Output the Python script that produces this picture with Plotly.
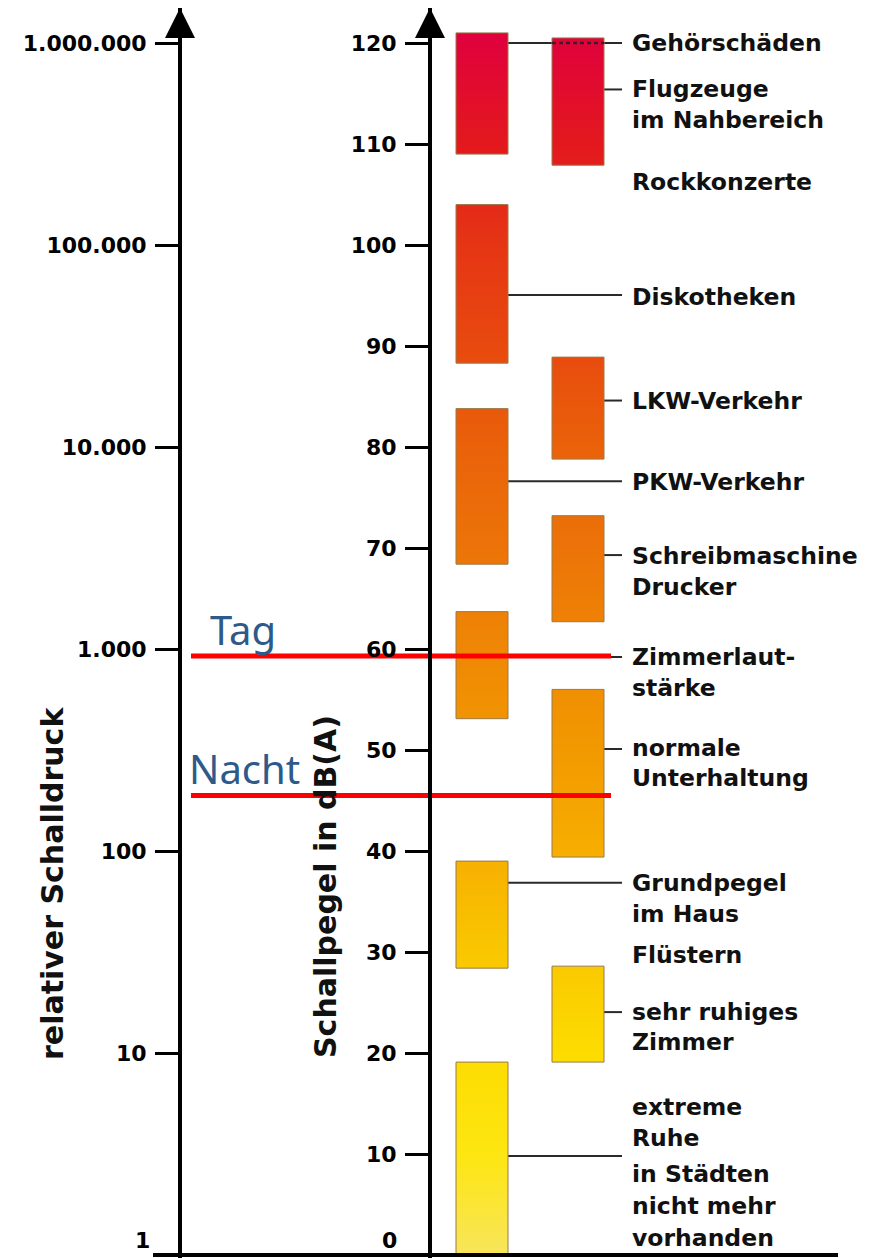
import plotly.graph_objects as go

# ---------------- data ----------------
# column 1 ranges (dB(A))
col1_low = [109.0, 88.3, 68.4, 53.1, 28.4, 0.0]
col1_high = [121.0, 104.0, 83.8, 63.7, 39.0, 19.1]
# column 2 ranges (dB(A))
col2_low = [107.9, 78.8, 62.7, 39.4, 19.1]
col2_high = [120.5, 88.9, 73.2, 56.0, 28.6]

# label text lines and their levels (dB)
label_lines = ["Gehörschäden", "Flugzeuge", "im Nahbereich", "Rockkonzerte",
               "Diskotheken", "LKW-Verkehr", "PKW-Verkehr", "Schreibmaschine",
               "Drucker", "Zimmerlaut-", "stärke", "normale", "Unterhaltung",
               "Grundpegel", "im Haus", "Flüstern", "sehr ruhiges", "Zimmer",
               "extreme", "Ruhe", "in Städten", "nicht mehr", "vorhanden"]
label_db = [120.0, 115.4, 112.4, 106.2, 94.85, 84.6, 76.5, 69.2, 66.1,
            59.2, 56.1, 50.2, 47.2, 36.8, 33.8, 29.7, 24.1, 21.1,
            14.65, 11.6, 8.0, 4.85, 1.7]

# connector lines: level (dB) and source column
connector_db = [120.0, 115.4, 95.05, 84.6, 76.6, 69.3, 59.2, 50.1, 36.85, 24.05, 9.8]
connector_col = [1, 2, 1, 2, 1, 2, 1, 2, 1, 2, 1]

# reference lines
ref_names = ["Tag", "Nacht"]
ref_db = [59.3, 45.5]

# axis ticks
db_ticks = [10, 20, 30, 40, 50, 60, 70, 80, 90, 100, 110, 120]
p_ticks = [10, 100, 1000, 10000, 100000, 1000000]
p_ticktext = ["10", "100", "1.000", "10.000", "100.000", "1.000.000"]

# ---------------- layout constants ----------------
OFF = 8                       # page body margin of the html page
W, H = 869 - OFF, 1258 - OFF  # figure size
PX_PER_DB = 10.1
Y0_PX = 1255                  # 0 dB in page pixels
DB_MAX = (Y0_PX - OFF) / PX_PER_DB
DB_MIN = (Y0_PX - 1258) / PX_PER_DB
X_LEFT_AXIS, X_RIGHT_AXIS = 180, 430
COL_X = {1: (456, 508), 2: (552, 604)}
CONN_END = 622
LABEL_X = 630
FONT = "DejaVu Sans"


def paper_x(px):
    return (px - OFF) / W


colorscale = [
    [0.00, "#F8E55C"],
    [0.08, "#FDE612"],
    [0.165, "#FDDC00"],
    [0.25, "#F9C600"],
    [0.33, "#F7AE00"],
    [0.41, "#F29A00"],
    [0.50, "#EF8605"],
    [0.58, "#EC7308"],
    [0.66, "#EA620A"],
    [0.74, "#E84A0E"],
    [0.83, "#E53415"],
    [0.91, "#E3181E"],
    [1.00, "#E0003E"],
]

fig = go.Figure()

# connectors (under bars)
cx, cy = [], []
for d, c in zip(connector_db, connector_col):
    cx += [COL_X[c][1], CONN_END, None]
    cy += [d, d, None]
fig.add_trace(go.Scatter(x=cx, y=cy, mode="lines",
                         line=dict(color="#2a2a2a", width=2), hoverinfo="skip"))

# bars as gradient-filled polygons
bx, by = [], []
for lows, highs, c in [(col1_low, col1_high, 1), (col2_low, col2_high, 2)]:
    x0, x1 = COL_X[c]
    for lo, hi in zip(lows, highs):
        bx += [x0, x1, x1, x0, x0, None]
        by += [lo, lo, hi, hi, lo, None]
fig.add_trace(go.Scatter(
    x=bx, y=by, mode="lines", fill="toself",
    line=dict(color="#9a7a4a", width=1),
    fillgradient=dict(type="vertical", start=0, stop=121, colorscale=colorscale),
    hoverinfo="skip"))

# dashed part of Gehörschäden line over column 2
fig.add_trace(go.Scatter(x=[COL_X[2][0], COL_X[2][1]], y=[connector_db[0]] * 2,
                         mode="lines",
                         line=dict(color="#3a2020", width=2.5, dash="4px,3px"),
                         hoverinfo="skip"))

# red reference lines
for n, d in zip(ref_names, ref_db):
    fig.add_trace(go.Scatter(x=[191, 611], y=[d, d], mode="lines", name=n,
                             line=dict(color="#FF0000", width=5), hoverinfo="skip"))

# arrow heads of the axes
fig.add_trace(go.Scatter(x=[X_RIGHT_AXIS], y=[DB_MAX], mode="markers",
                         marker=dict(symbol="arrow-up", size=30, color="black"),
                         cliponaxis=False, hoverinfo="skip"))
fig.add_trace(go.Scatter(x=[X_LEFT_AXIS], y=[10 ** (DB_MAX / 20)], yaxis="y2",
                         mode="markers",
                         marker=dict(symbol="arrow-up", size=30, color="black"),
                         cliponaxis=False, hoverinfo="skip"))

annotations = []
for t, d in zip(label_lines, label_db):
    annotations.append(dict(x=LABEL_X, y=d, xref="x", yref="y", text=t,
                            showarrow=False, xanchor="left", yanchor="middle",
                            font=dict(family=FONT, size=23.5, color="#111111",
                                      weight="bold")))
for n, d in zip(ref_names, ref_db):
    annotations.append(dict(x=208 if n == "Tag" else 187, y=d, xref="x", yref="y",
                            text=n, showarrow=False, xanchor="left", yanchor="bottom",
                            yshift=-3,
                            font=dict(family="Noto Sans", size=40, color="#2E5A8A")))
# bottom tick labels
annotations.append(dict(x=paper_x(X_RIGHT_AXIS - 31), y=0, xref="paper", yref="y", text="0",
                        showarrow=False, xanchor="right", yanchor="bottom",
                        font=dict(family=FONT, size=22, color="black", weight="bold")))
annotations.append(dict(x=paper_x(X_LEFT_AXIS - 28), y=0, xref="paper", yref="y", text="1",
                        showarrow=False, xanchor="right", yanchor="bottom",
                        font=dict(family=FONT, size=22, color="black", weight="bold")))
# axis titles
annotations.append(dict(x=paper_x(52), y=(Y0_PX - 884) / PX_PER_DB, xref="paper", yref="y",
                        text="relativer Schalldruck", textangle=-90, showarrow=False,
                        xanchor="center", yanchor="middle",
                        font=dict(family=FONT, size=30, color="#111111", weight="bold")))
annotations.append(dict(x=paper_x(325), y=(Y0_PX - 887) / PX_PER_DB, xref="paper", yref="y",
                        text="Schallpegel in dB(A)", textangle=-90, showarrow=False,
                        xanchor="center", yanchor="middle",
                        font=dict(family=FONT, size=30, color="#111111", weight="bold")))

tickfont = dict(family=FONT, size=22, color="black", weight="bold")
fig.update_layout(
    width=W, height=H,
    margin=dict(l=0, r=0, t=0, b=0),
    paper_bgcolor="white", plot_bgcolor="white",
    showlegend=False,
    xaxis=dict(domain=[paper_x(153), paper_x(838)], range=[153, 838], anchor="free",
               position=(1258 - Y0_PX) / H, showline=True, linecolor="black", linewidth=4,
               showgrid=False, zeroline=False, ticks="", showticklabels=False),
    yaxis=dict(range=[DB_MIN, DB_MAX], anchor="free", position=paper_x(X_RIGHT_AXIS),
               side="left", showline=True, linecolor="black", linewidth=4,
               ticks="outside", ticklen=23, tickwidth=3, tickcolor="black",
               tickvals=db_ticks, ticklabelstandoff=4, tickfont=tickfont,
               showgrid=False, zeroline=False),
    yaxis2=dict(type="log", range=[DB_MIN / 20, DB_MAX / 20], overlaying="y",
                anchor="free", position=paper_x(X_LEFT_AXIS), side="left",
                showline=True, linecolor="black", linewidth=4,
                ticks="outside", ticklen=23, tickwidth=3, tickcolor="black",
                tickvals=p_ticks, ticktext=p_ticktext, ticklabelstandoff=4,
                tickfont=tickfont, showgrid=False, zeroline=False),
    annotations=annotations,
)

fig.write_html("out.html")
